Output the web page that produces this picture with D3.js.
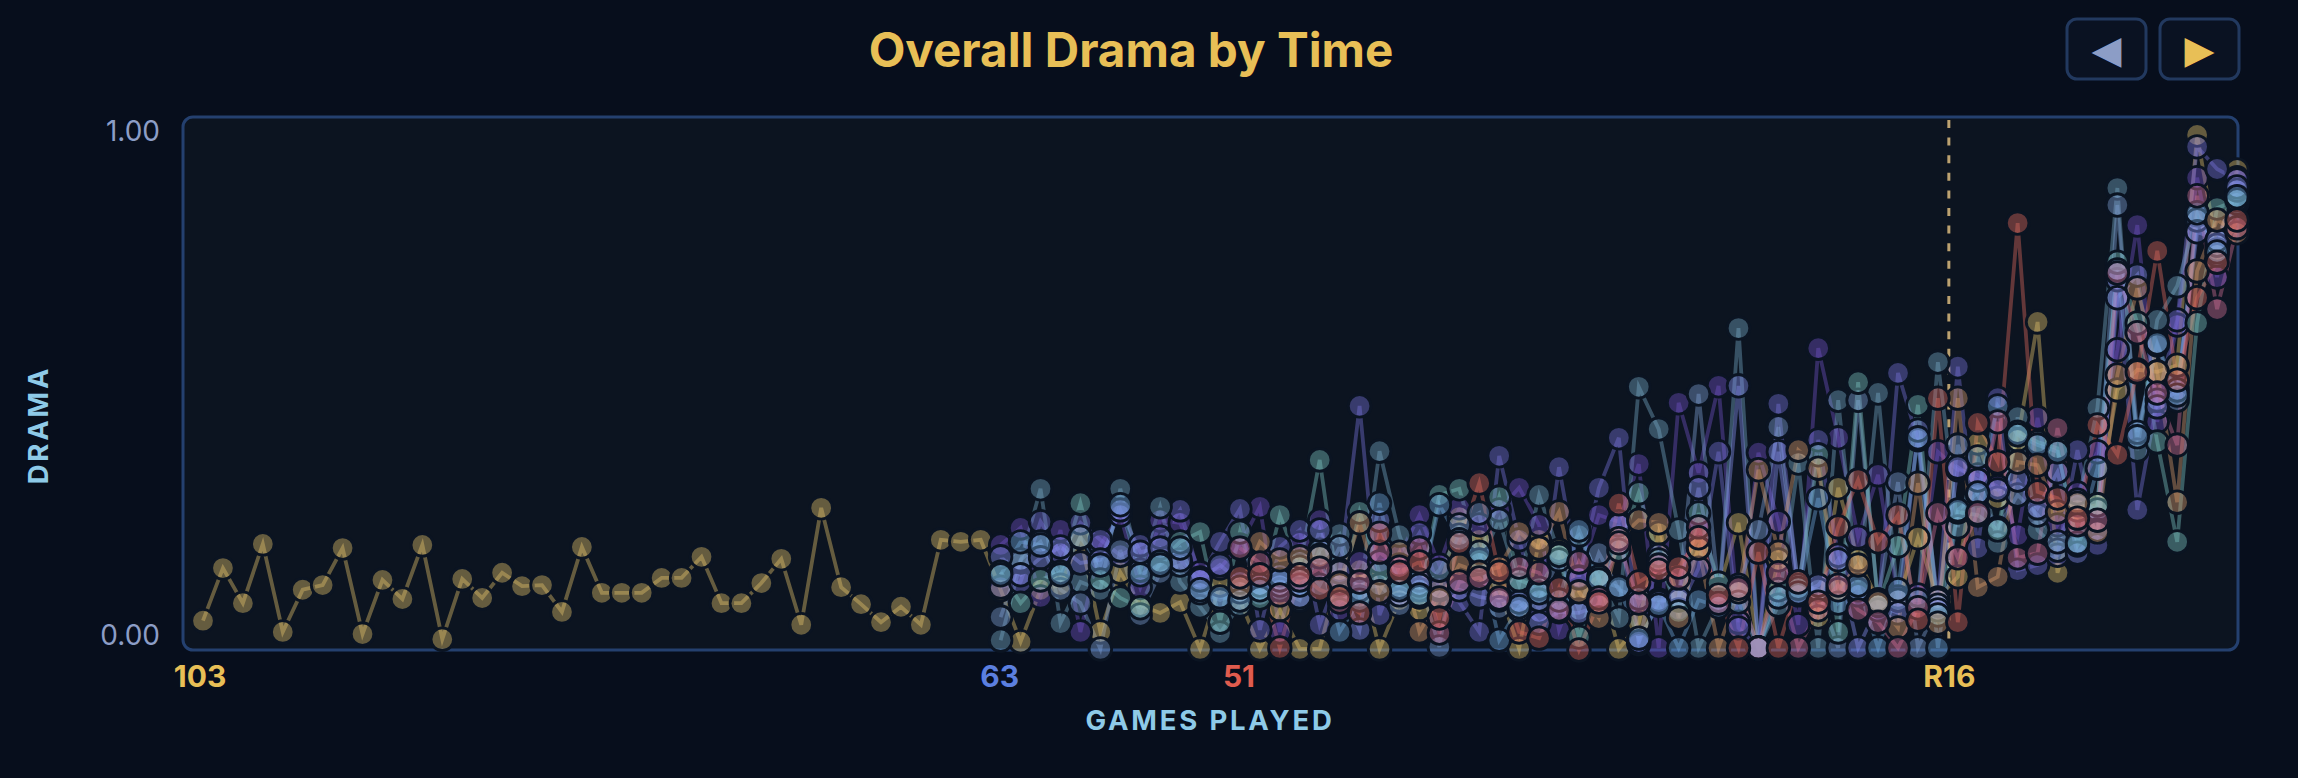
<!DOCTYPE html>
<html>
<head>
<meta charset="utf-8">
<title>Overall Drama by Time</title>
<script src="https://cdn.jsdelivr.net/npm/d3@7"></script>
<style>
  html, body { margin: 0; padding: 0; background: #070e1c; overflow: hidden; }
  svg { display: block; font-family: Inter, sans-serif; }
</style>
</head>
<body>
<div id="chart"></div>
<script>
const chartTitle = 'Overall Drama by Time';
const yTicks = [0, 1];
const xMarks = [
  { game: 0, label: '103', color: '#e8bf56' },
  { game: 40, label: '63', color: '#5b7fe0' },
  { game: 52, label: '51', color: '#e05c4e' },
  { game: 87.55, label: 'R16', color: '#e8bf56' }
];
const knockoutStart = 87.55;

// one tournament per array, right aligned on the last game
const gold103 = [
  .057, .159, .091, .206, .035, .117, .126, .198, .031, .136,
  .099, .204, .021, .138, .101, .150, .124, .126, .074, .200,
  .111, .111, .111, .140, .140, .181, .091, .091, .130, .177,
  .049, .276, .122, .089, .054, .084, .049, .214, .210, .214,
  .117, .016, .117, .126, .219, .035, .151, .087, .072, .093,
  .002, .126, .097, .002, .078, .002, .002, .155, .155, .002,
  .097, .078, .117, .258, .214, .117, .002, .214, .194, .117,
  .142, .002, .052, .227, .097, .198, .117, .247, .004, .175,
  .132, .064, .315, .175, .097, .097, .218, .101, .142, .402,
  .295, .408, .637, .150, .272, .282, .505, .544, .540, .553,
  1.0, .777, .932
];
const purple63 = [
  .204, .237, .103, .233, .035, .204, .262, .122, .252, .247,
  .150, .159, .204, .278, .035, .208, .252, .078, .171, .171,
  .184, .262, .165, .276, .243, .272, .315, .243, .039, .142,
  .262, .249, .361, .004, .480, .344, .513, .054, .383, .249,
  .049, .586, .412, .219, .340, .103, .107, .385, .350, .340,
  .317, .223, .451, .243, .305, .385, .583, .825, .443, .631,
  .917, .724, .917
];
const indigo63 = [
  .122, .132, .249, .188, .247, .214, .184, .204, .219, .272,
  .140, .210, .274, .039, .200, .233, .049, .151, .474, .068,
  .165, .227, .120, .093, .035, .377, .214, .074, .355, .140,
  .315, .412, .012, .184, .078, .159, .385, .043, .004, .478,
  .117, .408, .184, .107, .078, .538, .408, .097, .550, .198,
  .489, .155, .165, .184, .388, .204, .719, .272, .485, .641,
  .977, .934, .913
];
const periwinkle63 = [
  .181, .146, .179, .200, .169, .175, .272, .190, .198, .175,
  .136, .165, .132, .126, .146, .103, .233, .126, .039, .252,
  .107, .126, .097, .117, .103, .097, .093, .052, .074, .072,
  .087, .243, .016, .093, .101, .315, .097, .513, .004, .385,
  .107, .126, .175, .004, .087, .072, .427, .078, .355, .330,
  .311, .330, .276, .346, .188, .233, .684, .728, .472, .505,
  .812, .796, .899
];
const slate63 = [
  .064, .175, .210, .117, .091, .002, .194, .068, .150, .165,
  .111, .097, .113, .107, .126, .171, .126, .200, .117, .126,
  .087, .136, .006, .243, .266, .082, .078, .097, .175, .078,
  .188, .117, .101, .097, .097, .497, .113, .126, .233, .433,
  .126, .117, .004, .485, .097, .326, .004, .087, .398, .301,
  .237, .301, .262, .210, .291, .272, .864, .423, .592, .485,
  .835, .786, .893
];
const teal63 = [
  .151, .091, .136, .151, .285, .136, .101, .082, .171, .210,
  .229, .054, .229, .101, .262, .161, .369, .097, .268, .150,
  .122, .103, .301, .313, .175, .297, .136, .120, .184, .025,
  .142, .194, .305, .175, .074, .266, .130, .117, .004, .117,
  .120, .379, .035, .520, .087, .202, .476, .068, .268, .262,
  .233, .423, .404, .392, .204, .282, .753, .635, .404, .210,
  .635, .858, .874
];
const steel63 = [
  .019, .171, .313, .052, .132, .117, .313, .155, .278, .132,
  .084, .033, .087, .113, .117, .097, .194, .225, .103, .386,
  .223, .117, .155, .223, .169, .252, .126, .301, .188, .223,
  .140, .062, .511, .429, .233, .004, .087, .625, .004, .087,
  .363, .004, .485, .117, .499, .097, .097, .559, .239, .375,
  .208, .452, .233, .194, .282, .470, .897, .388, .641, .707,
  .845, .767, .868
];
const sky63 = [
  .146, .210, .204, .146, .219, .165, .282, .146, .165, .198,
  .117, .103, .097, .117, .136, .126, .184, .035, .097, .285,
  .117, .107, .282, .214, .190, .019, .084, .111, .097, .233,
  .136, .122, .023, .087, .004, .097, .084, .093, .004, .103,
  .111, .295, .091, .126, .004, .117, .412, .004, .272, .305,
  .474, .418, .398, .385, .208, .353, .738, .414, .596, .495,
  .849, .773, .880
];
const red51 = [
  .142, .146, .004, .146, .117, .103, .072, .227,
  .151, .171, .062, .208, .324, .151, .035, .023, .120, 0,
  .093, .284, .132, .155, .161, .218, .107, .004, .190, .004,
  .132, .093, .239, .330, .210, .262, .058, .489, .054, .441,
  .365, .829, .307, .295, .256, .437, .379, .540, .775, .524,
  .684, .753, .835
];
const orange51 = [
  .122, .210, .175, .181, .181, .130, .247, .113,
  .190, .035, .101, .165, .151, .161, .229, .198, .268, .113,
  .062, .216, .252, .247, .062, .198, .004, .113, .350, .190,
  .388, .353, .117, .165, .093, .043, .324, .052, .489, .122,
  .142, .365, .359, .268, .285, .229, .534, .703, .540, .287,
  .736, .835, .810
];
const rose51 = [
  .198, .169, .107, .136, .159, .093, .132, .190,
  .161, .198, .033, .132, .140, .101, .161, .150, .078, .171,
  .101, .208, .091, .165, .140, .239, .091, .120, .004, .150,
  .004, .078, .126, .078, .054, .004, .082, .266, .179, .266,
  .443, .179, .188, .431, .243, .252, .732, .616, .499, .398,
  .882, .662, .820
];

const seriesList = [
  { values: gold103, color: '#e2c26c' },
  { values: purple63, color: '#7150c3' },
  { values: indigo63, color: '#7672d9' },
  { values: steel63, color: '#75a8c4' },
  { values: slate63, color: '#7f9fd4' },
  { values: periwinkle63, color: '#8690ee' },
  { values: teal63, color: '#7cc4c2' },
  { values: sky63, color: '#6fa8dc' },
  { values: orange51, color: '#d89c6c' },
  { values: rose51, color: '#cf7096' },
  { values: red51, color: '#de6a5c' }
];

const width = 2298;
const height = 778;
const lastGame = 102;
const frame = { left: 183, right: 2238, top: 117, bottom: 650 };

const x = d3.scaleLinear().domain([0, lastGame]).range([203, 2237]);
const y = d3.scaleLinear().domain([0, 1]).range([650, 135]);
// the tick labels sit a little above the values they name
const yLabel = d3.scaleLinear().domain([0, 1]).range([636, 132]);

const svg = d3.select('#chart')
  .append('svg')
  .attr('viewBox', `0 0 ${width} ${height}`)
  .attr('width', width)
  .attr('height', height);

svg.append('text')
  .attr('x', 1131)
  .attr('y', 50)
  .attr('dy', '0.35em')
  .attr('text-anchor', 'middle')
  .attr('font-size', 47.6)
  .attr('font-weight', 700)
  .attr('fill', '#e8bf56')
  .text(chartTitle);

// prev / next buttons
[
  { left: 2067, glyph: '◀', color: '#8c9dc6' },
  { left: 2160, glyph: '▶', color: '#e8bf56' }
].forEach((button) => {
  svg.append('rect')
    .attr('x', button.left)
    .attr('y', 19)
    .attr('width', 79)
    .attr('height', 60)
    .attr('rx', 10)
    .attr('fill', '#0a1222')
    .attr('stroke', '#22395f')
    .attr('stroke-width', 3);
  svg.append('text')
    .attr('x', button.left + 39.5)
    .attr('y', 49)
    .attr('dy', '0.35em')
    .attr('text-anchor', 'middle')
    .attr('font-size', 39)
    .attr('font-family', 'DejaVu Sans')
    .attr('fill', button.color)
    .text(button.glyph);
});

svg.append('rect')
  .attr('x', frame.left)
  .attr('y', frame.top)
  .attr('width', frame.right - frame.left)
  .attr('height', frame.bottom - frame.top)
  .attr('rx', 10)
  .attr('fill', '#0c1420')
  .attr('stroke', '#24406f')
  .attr('stroke-width', 3);

const yAxis = svg.append('g')
  .attr('transform', `translate(${frame.left - 23}, 0)`)
  .call(d3.axisLeft(yLabel).tickValues(yTicks).tickFormat(d3.format('.2f')).tickSize(0).tickPadding(0));
yAxis.select('.domain').remove();
yAxis.selectAll('text')
  .attr('font-family', 'Inter, sans-serif')
  .attr('font-size', 28)
  .attr('fill', '#8c9dc6');

svg.append('text')
  .attr('transform', 'translate(38, 425) rotate(-90)')
  .attr('dy', '0.35em')
  .attr('text-anchor', 'middle')
  .attr('font-size', 27.5)
  .attr('font-weight', 700)
  .attr('letter-spacing', 2.8)
  .attr('fill', '#8ecae8')
  .text('DRAMA');

svg.append('text')
  .attr('x', 1210)
  .attr('y', 720)
  .attr('dy', '0.35em')
  .attr('text-anchor', 'middle')
  .attr('font-size', 27.5)
  .attr('font-weight', 700)
  .attr('letter-spacing', 2.8)
  .attr('fill', '#8ecae8')
  .text('GAMES PLAYED');

const markOffset = (mark) => {
  if (mark.game === 0) return -3;
  return mark.game > 80 ? 0.5 : -1;
};

svg.selectAll('.x-mark')
  .data(xMarks)
  .join('text')
  .attr('class', 'x-mark')
  .attr('x', (mark) => x(mark.game) + markOffset(mark))
  .attr('y', 676)
  .attr('dy', '0.35em')
  .attr('text-anchor', 'middle')
  .attr('font-size', 30)
  .attr('font-weight', 700)
  .attr('fill', (mark) => mark.color)
  .text((mark) => mark.label);

svg.append('line')
  .attr('x1', x(knockoutStart))
  .attr('x2', x(knockoutStart))
  .attr('y1', frame.top + 3)
  .attr('y2', frame.bottom - 2)
  .attr('stroke', '#e8c684')
  .attr('stroke-opacity', 0.8)
  .attr('stroke-width', 3)
  .attr('stroke-dasharray', '8 9.6');

// every tournament ends on the last game, so shorter ones start further right
const toPoints = (series) => series.values.map((value, index) => ({
  game: lastGame - series.values.length + 1 + index,
  value,
  color: series.color
}));

const lineGenerator = d3.line()
  .x((point) => x(point.game))
  .y((point) => y(point.value));

svg.append('g')
  .attr('fill', 'none')
  .attr('stroke-width', 3.8)
  .attr('stroke-opacity', 0.42)
  .selectAll('path')
  .data(seriesList)
  .join('path')
  .attr('stroke', (series) => series.color)
  .attr('d', (series) => lineGenerator(toPoints(series)));

svg.append('g')
  .selectAll('g')
  .data(seriesList)
  .join('g')
  .selectAll('circle')
  .data(toPoints)
  .join('circle')
  .attr('cx', (point) => x(point.game))
  .attr('cy', (point) => y(point.value))
  .attr('r', 11.3)
  .attr('fill', (point) => point.color)
  .attr('fill-opacity', 0.42)
  .attr('stroke', '#0b1422')
  .attr('stroke-width', 2.8);
</script>
</body>
</html>
